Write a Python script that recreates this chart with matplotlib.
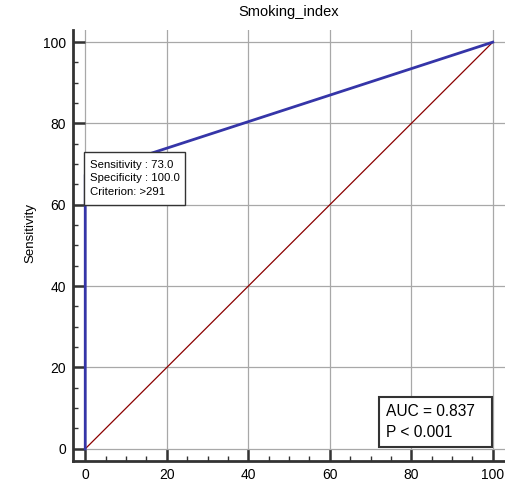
import numpy as np
import matplotlib
matplotlib.use("Agg")
import matplotlib.pyplot as plt
from matplotlib.ticker import MultipleLocator
from matplotlib.patches import Rectangle

plt.rcParams["font.family"] = ["Liberation Sans", "DejaVu Sans"]

# ROC curve (100 - specificity, sensitivity)
fpr = [0, 0, 100]
tpr = [0, 67.4, 100]
diag = [0, 100]

title = "Smoking_index"
ticks = [0, 20, 40, 60, 80, 100]

fig = plt.figure(figsize=(5.05, 4.83), dpi=100)
ax = fig.add_axes([0.1446, 0.0455, 0.8554, 0.8925])

ax.plot(diag, diag, color="#8b0000", lw=0.9, zorder=3)
ax.plot(fpr, tpr, color="#3535a8", lw=2.0, zorder=4)

ax.set_xlim(-3, 103)
ax.set_ylim(-3, 103)
ax.set_xticks(ticks)
ax.set_yticks(ticks)
ax.xaxis.set_minor_locator(MultipleLocator(5))
ax.yaxis.set_minor_locator(MultipleLocator(5))
ax.grid(True, which="major", color="#a8a8a8", lw=0.9, zorder=1)

for s in ["top", "right"]:
    ax.spines[s].set_visible(False)
for s in ["left", "bottom"]:
    ax.spines[s].set_color("#333333")
    ax.spines[s].set_linewidth(2.0)

ax.tick_params(which="major", direction="in", length=8.6, width=1.8,
               color="#333333", labelsize=10, pad=5)
ax.tick_params(which="minor", direction="in", length=3.6, width=1.0,
               color="#333333")

ax.set_title(title, fontsize=10.5, pad=10)
ax.set_ylabel("Sensitivity", fontsize=9.5)
ax.yaxis.set_label_coords(-0.085, 0.53)

# criterion box
ax.add_patch(Rectangle((-0.2, 60.0), 24.6, 13.0, fc="white", ec="#333333",
                       lw=1.0, zorder=6))
ax.text(1.1, 69.9, "Sensitivity : 73.0", fontsize=8.2, va="center", zorder=7)
ax.text(1.1, 66.5, "Specificity : 100.0", fontsize=8.2, va="center", zorder=7)
ax.text(1.1, 63.1, "Criterion: >291", fontsize=8.2, va="center", zorder=7)

# AUC box
ax.add_patch(Rectangle((72.1, 0.5), 27.7, 12.3, fc="white", ec="#333333",
                       lw=1.5, zorder=6))
ax.text(73.7, 9.1, "AUC = 0.837", fontsize=11.2, va="center", zorder=7)
ax.text(73.7, 4.0, "P < 0.001", fontsize=11.2, va="center", zorder=7)

fig.savefig("out.png", dpi=100)
